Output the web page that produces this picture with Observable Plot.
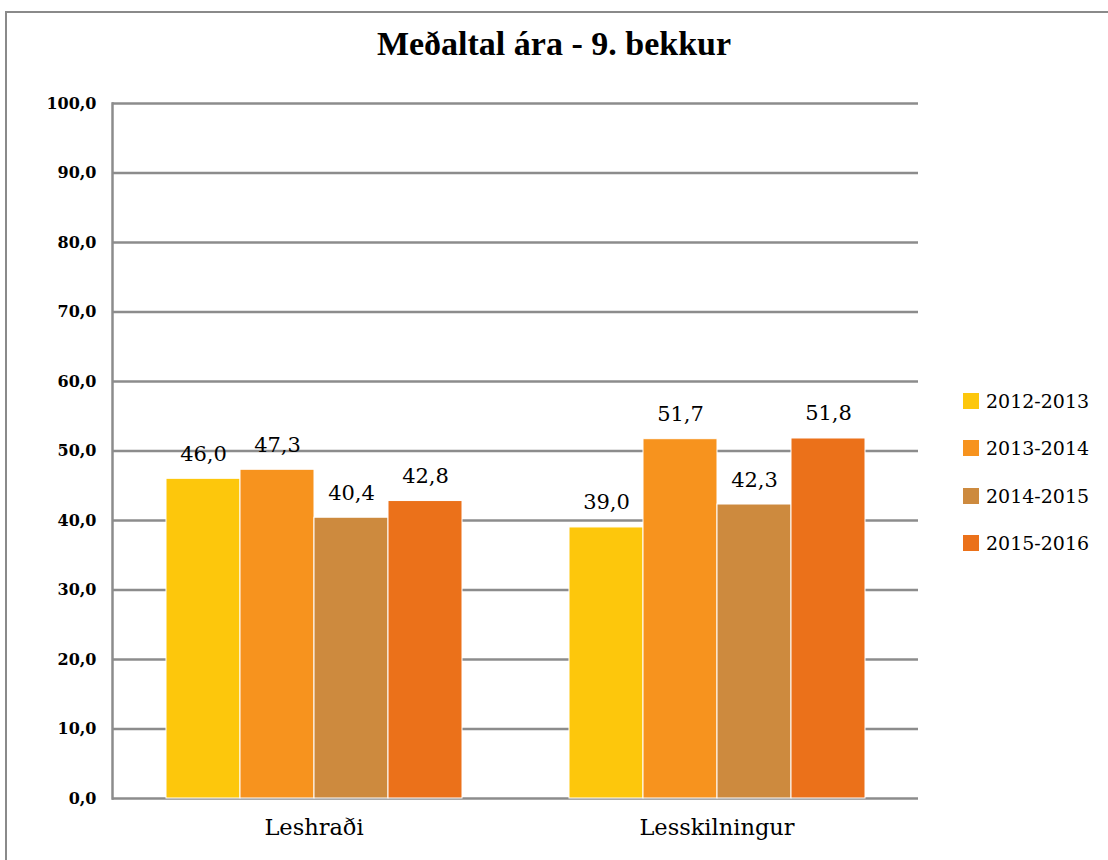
<!DOCTYPE html>
<html>
<head>
<meta charset="utf-8">
<script src="https://cdn.jsdelivr.net/npm/d3@7"></script>
<script src="https://cdn.jsdelivr.net/npm/@observablehq/plot@0.6"></script>
<style>
  html, body { margin: 0; padding: 0; background: #fff; overflow: hidden; }
  #wrap { position: relative; width: 1108px; height: 860px; overflow: hidden; font-family: "DejaVu Serif", serif; }
  #frame { position: absolute; left: 5px; top: 11px; width: 1200px; height: 900px; border: 2px solid #8a8a8a; box-sizing: border-box; }
  #title { position: absolute; left: 0; width: 1108px; top: 25px; text-align: center; font-family: "Liberation Serif", serif; font-weight: bold; font-size: 34px; color: #000; }
  #chart { position: absolute; left: 0; top: 0; }
  #legend { position: absolute; left: 963px; top: 377px; }
  .item { display: flex; align-items: center; height: 47.5px; font-size: 19px; color: #000; }
  .sw { width: 16px; height: 16px; margin-right: 7px; }
</style>
</head>
<body>
<div id="wrap">
  <div id="frame"></div>
  <div id="title">Meðaltal ára - 9. bekkur</div>
  <div id="chart"></div>
  <div id="legend"></div>
</div>
<script>
const categories = ["Leshraði", "Lesskilningur"];
const years = ["2012-2013", "2013-2014", "2014-2015", "2015-2016"];
const leshradi = [46.0, 47.3, 40.4, 42.8];
const lesskilningur = [39.0, 51.7, 42.3, 51.8];
const colors = ["#FDC70C", "#F7931E", "#CD8A3E", "#EB711A"];
const yTicks = [0, 10, 20, 30, 40, 50, 60, 70, 80, 90, 100];

const series = [leshradi, lesskilningur];
const data = [];
categories.forEach((c, i) => years.forEach((y, j) => data.push({cat: c, year: y, value: series[i][j]})));
const fmt = v => v.toFixed(1).replace(".", ",");

const chart = Plot.plot({
  width: 1108,
  height: 860,
  marginLeft: 111,
  marginRight: 190,
  marginTop: 103,
  marginBottom: 62,
  style: {fontFamily: "DejaVu Serif, serif", fontSize: "16px", color: "#000", background: "transparent"},
  fx: {domain: categories, padding: 0, label: null},
  x: {domain: years, paddingInner: 0, paddingOuter: 0.72, axis: null},
  y: {domain: [0, 100], label: null},
  color: {domain: years, range: colors},
  marks: [
    Plot.gridY(yTicks, {stroke: "#8c8c8c", strokeOpacity: 1, strokeWidth: 2.5}),
    Plot.barY(data, {fx: "cat", x: "year", y: "value", fill: "year", stroke: "#fff", strokeWidth: 1}),
    Plot.text(data, {fx: "cat", x: "year", y: "value", text: d => fmt(d.value), lineAnchor: "bottom", dy: -18, fontSize: 21, fill: "#000"}),
    Plot.frame({anchor: "left", facet: "super", stroke: "#8c8c8c", strokeWidth: 2.5}),
    Plot.axisY(yTicks, {tickSize: 0, tickPadding: 16, tickFormat: fmt, fontSize: 16, fontWeight: "bold", label: null}),
    Plot.axisFx({anchor: "bottom", tickSize: 0, tickPadding: 21, fontSize: 22.5, label: null})
  ]
});
document.getElementById("chart").appendChild(chart);

const legend = document.getElementById("legend");
years.forEach((y, i) => {
  const it = document.createElement("div");
  it.className = "item";
  const sw = document.createElement("div");
  sw.className = "sw";
  sw.style.background = colors[i];
  const t = document.createElement("span");
  t.textContent = y;
  it.appendChild(sw); it.appendChild(t);
  legend.appendChild(it);
});
</script>
</body>
</html>
